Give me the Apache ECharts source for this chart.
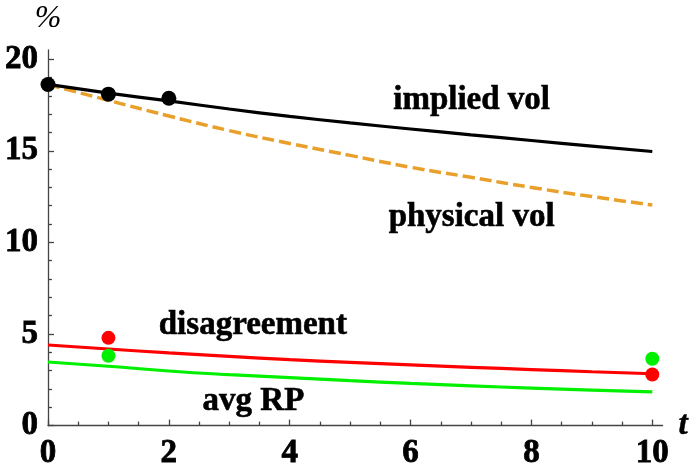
<!DOCTYPE html>
<html>
<head>
<meta charset="utf-8">
<script src="https://cdn.jsdelivr.net/npm/echarts@6/dist/echarts.min.js"></script>
<style>
html,body{margin:0;padding:0;background:#fff;}
#chart{width:691px;height:470px;}
</style>
</head>
<body>
<div id="chart"></div>
<script>
// ---- data ----
const tValues      = [0, 1, 2, 3, 4, 5, 6, 7, 8, 9, 10];
const impliedVol   = [18.62, 18.15, 17.72, 17.28, 16.88, 16.52, 16.19, 15.87, 15.56, 15.25, 14.96];
const physicalVol  = [18.62, 17.75, 16.90, 16.10, 15.40, 14.75, 14.10, 13.55, 13.00, 12.50, 12.04];
const disagreement = [4.40, 4.18, 3.97, 3.78, 3.60, 3.45, 3.31, 3.18, 3.06, 2.94, 2.83];
const avgRP        = [3.47, 3.24, 2.98, 2.78, 2.62, 2.45, 2.30, 2.17, 2.05, 1.94, 1.84];
const impliedDotsT = [0, 1, 2];
const impliedDotsV = [18.62, 18.09, 17.87];
const disDotsT     = [1, 10];
const disDotsV     = [4.79, 2.79];
const rpDotsT      = [1, 10];
const rpDotsV      = [3.81, 3.65];
const xTicks       = [0, 2, 4, 6, 8, 10];
const xMinorTicks  = [0.5, 1, 1.5, 2.5, 3, 3.5, 4.5, 5, 5.5, 6.5, 7, 7.5, 8.5, 9, 9.5];
const yTicks       = [0, 5, 10, 15, 20];
const yMinorTicks  = [1, 2, 3, 4, 6, 7, 8, 9, 11, 12, 13, 14, 16, 17, 18, 19];
const annoText     = ['implied vol', 'physical vol', 'disagreement', 'avg RP'];
const annoT        = [7.01, 7.01, 3.39, 3.40];
const annoV        = [17.77, 11.38, 5.47, 1.34];

const zip = (a, b) => a.map((x, i) => [x, b[i]]);
const SERIF = '"Liberation Serif", "Times New Roman", serif';
const AXIS_COLOR = '#444';
const X_MAX = 10.17, Y_MAX = 20.5;

const chart = echarts.init(document.getElementById('chart'));

const labelStyle = {fontFamily: SERIF, fontWeight: 'bold', fontSize: 33, color: '#000',
                    textBorderColor: '#000', textBorderWidth: 0.8};

const option = {
  animation: false,
  backgroundColor: '#fff',
  grid: {left: 48, top: 50, width: 615, height: 382, containLabel: false},
  xAxis: [
    {
      type: 'value', min: 0, max: X_MAX,
      axisLine: {show: true, lineStyle: {color: AXIS_COLOR, width: 1.3}},
      axisTick: {show: true, inside: true, length: 6, customValues: xTicks, lineStyle: {color: AXIS_COLOR, width: 1.3}},
      axisLabel: Object.assign({customValues: xTicks, margin: 11}, labelStyle),
      splitLine: {show: false},
      name: 't', nameLocation: 'end', nameGap: 16,
      nameTextStyle: {fontFamily: SERIF, fontStyle: 'italic', fontWeight: 'bold', fontSize: 33, color: '#000',
                      textBorderColor: '#000', textBorderWidth: 0.5, verticalAlign: 'middle', padding: [0,0,6,0]}
    },
    {
      type: 'value', min: 0, max: X_MAX, position: 'bottom',
      axisLine: {show: false},
      axisTick: {show: true, inside: true, length: 4, customValues: xMinorTicks, lineStyle: {color: AXIS_COLOR, width: 1.3}},
      axisLabel: {show: false},
      splitLine: {show: false}
    }
  ],
  yAxis: [
    {
      type: 'value', min: 0, max: Y_MAX,
      axisLine: {show: true, lineStyle: {color: AXIS_COLOR, width: 1.3}},
      axisTick: {show: true, inside: true, length: 6, customValues: yTicks, lineStyle: {color: AXIS_COLOR, width: 1.3}},
      axisLabel: Object.assign({customValues: yTicks, margin: 10}, labelStyle),
      splitLine: {show: false},
      name: '%', nameLocation: 'end', nameGap: 15,
      nameTextStyle: {fontFamily: SERIF, fontStyle: 'italic', fontSize: 32, color: '#000'}
    },
    {
      type: 'value', min: 0, max: Y_MAX, position: 'left',
      axisLine: {show: false},
      axisTick: {show: true, inside: true, length: 4, customValues: yMinorTicks, lineStyle: {color: AXIS_COLOR, width: 1.3}},
      axisLabel: {show: false},
      splitLine: {show: false}
    }
  ],
  series: [
    {type: 'line', name: 'physical vol', data: zip(tValues, physicalVol), smooth: true, showSymbol: false,
     lineStyle: {color: '#E8A02A', width: 3.5, type: [12, 5]}, z: 2},
    {type: 'line', name: 'implied vol', data: zip(tValues, impliedVol), smooth: true, showSymbol: false,
     lineStyle: {color: '#000', width: 3.2}, z: 3},
    {type: 'line', name: 'disagreement', data: zip(tValues, disagreement), smooth: true, showSymbol: false,
     lineStyle: {color: '#FF0000', width: 3.2}, z: 3},
    {type: 'line', name: 'avg RP', data: zip(tValues, avgRP), smooth: true, showSymbol: false,
     lineStyle: {color: '#00F000', width: 3.2}, z: 3},
    {type: 'scatter', data: zip(impliedDotsT, impliedDotsV), symbolSize: 15, itemStyle: {color: '#000', opacity: 1}, z: 5},
    {type: 'scatter', data: zip(disDotsT, disDotsV), symbolSize: 14, itemStyle: {color: '#FF0000', opacity: 1}, z: 5},
    {type: 'scatter', data: zip(rpDotsT, rpDotsV), symbolSize: 14, itemStyle: {color: '#00F000', opacity: 1}, z: 5}
  ]
};
chart.setOption(option);

const graphics = annoText.map((txt, i) => {
  const p = chart.convertToPixel({xAxisIndex: 0, yAxisIndex: 0}, [annoT[i], annoV[i]]);
  return {
    type: 'text', x: p[0], y: p[1], z: 10,
    style: {text: txt, fontFamily: SERIF, fontWeight: 'bold', fontSize: 33, fill: '#000', align: 'center', verticalAlign: 'middle',
            stroke: '#000', lineWidth: 0.6}
  };
});
chart.setOption({graphic: graphics});
</script>
</body>
</html>
